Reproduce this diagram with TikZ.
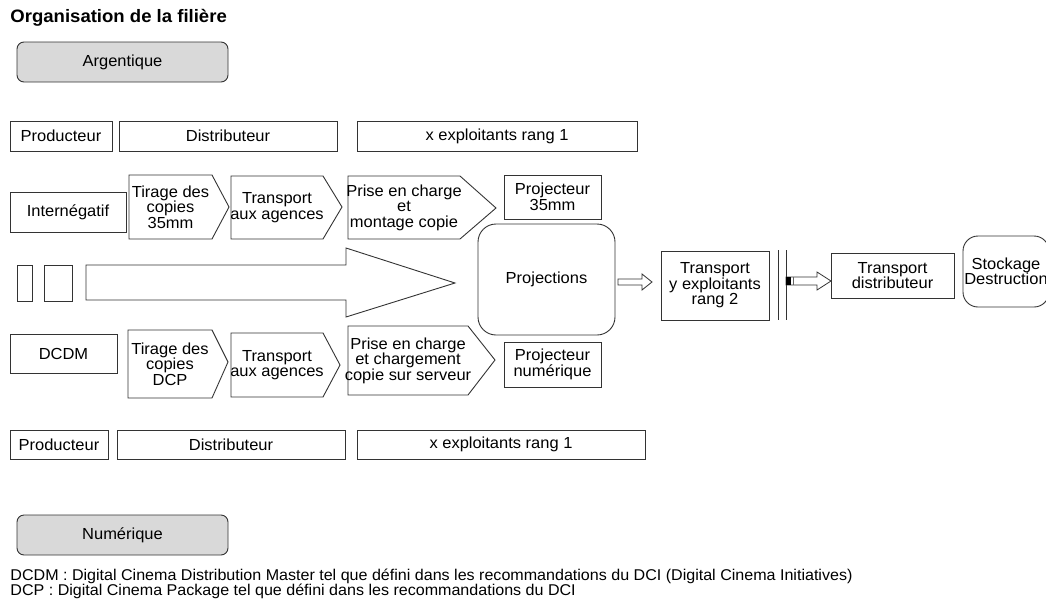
\documentclass[tikz,border=0pt]{standalone}
\usepackage{fontspec}
\setmainfont[FakeStretch=1.03]{Liberation Sans}
\begin{document}
\begin{tikzpicture}[x=1pt,y=-1pt,
  line width=0.9pt,
  box/.style={draw=black!80,rectangle,inner sep=0pt,outer sep=0pt,align=center,font=\fontsize{16}{15.5}\selectfont},
  rbox/.style={box,rounded corners=18pt},
  gbox/.style={box,rounded corners=7pt,fill=black!15},
  shp/.style={draw=black!80,line join=miter},
  txt/.style={inner sep=0pt,align=center,font=\fontsize{16}{15.5}\selectfont},
  note/.style={anchor=base west,inner sep=0pt,font=\fontsize{15.6}{15.5}\selectfont}]
\newcommand\bx[7][]{\node[box,#1,minimum width={(#5-#3)*1pt},minimum height={(#6-#4)*1pt}] (#2) at ({(#3+#5)/2},{(#4+#6)/2}) {#7};}
\newcommand\pent[8]{% name, left, top, bottom, corner, tip, tipy, text
  \draw[shp] (#2,#3) -- (#5,#3) -- (#6,#7) -- (#5,#4) -- (#2,#4) -- cycle;
  \node[txt] (#1) at ({(#2+#5)/2},{(#3+#4)/2}) {#8};}
\useasboundingbox (0,0) rectangle (1046,613);
% title
\node[anchor=base west,inner sep=0pt,font=\fontsize{18}{18}\selectfont\bfseries] (title) at (10,22) {Organisation de la filière};
\bx[gbox]{arg}{17}{42}{228}{82}{Argentique}
\bx[gbox]{num}{17}{515}{228}{555}{Numérique}
% top row
\bx{prodA}{10}{121}{112}{151}{Producteur}
\bx{distA}{119}{121}{337}{151}{Distributeur}
\bx{explA}{357}{121}{637}{151}{x exploitants rang 1}
% 35mm row
\bx{inter}{10}{192}{126}{232}{Internégatif}
\pent{tirA}{129}{175}{239}{212}{229}{207}{Tirage des\\copies\\35mm}
\pent{trA}{231}{176}{239}{323}{342}{207}{Transport\\aux agences}
\pent{priseA}{348}{176}{239}{460}{496}{208}{Prise en charge\\et\\montage copie}
\bx{projA}{504}{175}{601}{219}{Projecteur\\35mm}
% middle
\bx{sq1}{17}{265}{32}{301}{}
\bx{sq2}{44}{265}{72}{301}{}
\draw[shp] (86,265) -- (346,265) -- (346,248) -- (455,283) -- (346,317) -- (346,300) -- (86,300) -- cycle;
\bx[rbox]{proj}{478}{224}{615}{335}{Projections}
\draw[shp,line width=0.8pt] (618,279) -- (642,279) -- (642,274) -- (652,282) -- (642,290) -- (642,285) -- (618,285) -- cycle;
\bx{trY}{661}{251}{769}{320}{Transport\\y exploitants\\rang 2}
\coordinate (v1t) at (778,250); \coordinate (v1b) at (778,320);
\coordinate (v2t) at (786,250); \coordinate (v2b) at (786,320);
\draw[black!80] (v1t) -- (v1b);
\draw[black!80] (v2t) -- (v2b);
\draw[shp,line width=0.8pt] (786,277) -- (817,277) -- (817,272) -- (831,281) -- (817,290) -- (817,285) -- (786,285) -- cycle;
\fill[black] (786,277) rectangle (791,285);
\draw[black!60,line width=0.8pt] (793,277) -- (793,285);
\bx{trD}{831}{253}{954}{298}{Transport\\distributeur}
\bx[rounded corners=15pt]{stock}{963}{236}{1049}{307}{Stockage\\Destruction}
% DCDM row
\bx{dcdm}{10}{334}{117}{373}{DCDM}
\pent{tirB}{128}{330}{398}{212}{228}{362}{Tirage des\\copies\\DCP}
\pent{trB}{231}{333}{397}{323}{340}{365}{Transport\\aux agences}
\pent{priseB}{348}{326}{395}{468}{495}{360}{Prise en charge\\et chargement\\copie sur serveur}
\bx{projB}{504}{342}{601}{387}{Projecteur\\numérique}
% bottom row
\bx{prodB}{10}{430}{108}{459}{Producteur}
\bx{distB}{117}{430}{345}{459}{Distributeur}
\bx{explB}{357}{430}{645}{459}{x exploitants rang 1}
% notes
\node[note] (note1) at (10,580) {DCDM : Digital Cinema Distribution Master tel que défini dans les recommandations du DCI (Digital Cinema Initiatives)};
\node[note] (note2) at (10,595) {DCP : Digital Cinema Package tel que défini dans les recommandations du DCI};
\end{tikzpicture}
\end{document}
